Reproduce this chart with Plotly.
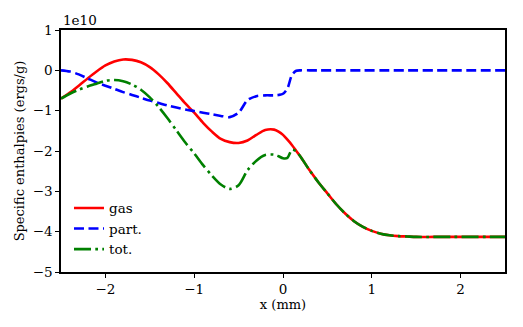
import plotly.graph_objects as go

# x grid (mm) and specific enthalpies in units of 1e10 ergs/g
x_mm = [-2.5, -2.4, -2.3, -2.2, -2.1, -2.0, -1.9, -1.8, -1.7, -1.6,
        -1.5, -1.4, -1.3, -1.2, -1.1, -1.0, -0.9, -0.8, -0.7, -0.6,
        -0.5, -0.4, -0.3, -0.2, -0.1, -0.05, 0.0, 0.05, 0.1, 0.15,
        0.2, 0.3, 0.4, 0.5, 0.6, 0.7, 0.8, 0.9, 1.0, 1.1,
        1.2, 1.3, 1.4, 1.5, 1.7, 1.9, 2.1, 2.3, 2.5]

gas = [-0.70, -0.55, -0.38, -0.20, -0.03, 0.12, 0.22, 0.27, 0.26, 0.20,
       0.08, -0.10, -0.32, -0.57, -0.82, -1.05, -1.30, -1.52, -1.70, -1.78,
       -1.80, -1.74, -1.60, -1.48, -1.47, -1.52, -1.60, -1.72, -1.85, -2.00,
       -2.15, -2.48, -2.78, -3.05, -3.32, -3.55, -3.74, -3.88, -3.98, -4.05,
       -4.09, -4.11, -4.12, -4.13, -4.13, -4.13, -4.13, -4.13, -4.13]

part = [0.00, -0.03, -0.10, -0.20, -0.30, -0.38, -0.46, -0.54, -0.61, -0.68,
        -0.75, -0.81, -0.87, -0.92, -0.97, -1.01, -1.05, -1.09, -1.13, -1.16,
        -1.05, -0.74, -0.64, -0.62, -0.62, -0.61, -0.58, -0.45, -0.12, -0.01,
        0.00, 0.00, 0.00, 0.00, 0.00, 0.00, 0.00, 0.00, 0.00, 0.00,
        0.00, 0.00, 0.00, 0.00, 0.00, 0.00, 0.00, 0.00, 0.00]

tot = [-0.70, -0.58, -0.48, -0.40, -0.33, -0.26, -0.24, -0.27, -0.35, -0.48,
       -0.67, -0.91, -1.19, -1.49, -1.79, -2.06, -2.35, -2.61, -2.83, -2.94,
       -2.85, -2.48, -2.24, -2.10, -2.09, -2.13, -2.18, -2.17, -1.97, -2.01,
       -2.15, -2.48, -2.78, -3.05, -3.32, -3.55, -3.74, -3.88, -3.98, -4.05,
       -4.09, -4.11, -4.12, -4.13, -4.13, -4.13, -4.13, -4.13, -4.13]

font = "DejaVu Serif"

fig = go.Figure()
fig.add_trace(go.Scatter(x=x_mm, y=gas, name="gas", mode="lines",
                         line=dict(color="red", width=2.6, shape="spline", smoothing=0.8)))
fig.add_trace(go.Scatter(x=x_mm, y=part, name="part.", mode="lines",
                         line=dict(color="blue", width=2.6, dash="10px,4.5px", shape="spline", smoothing=0.8)))
fig.add_trace(go.Scatter(x=x_mm, y=tot, name="tot.", mode="lines",
                         line=dict(color="green", width=2.6, dash="17px,4.3px,2.7px,4.3px",
                                   shape="spline", smoothing=0.8)))

axis_style = dict(showline=True, linecolor="black", linewidth=1.5, mirror=True,
                  ticks="outside", ticklen=4, tickwidth=1.2, tickcolor="black",
                  showgrid=False, zeroline=False, automargin=False,
                  tickfont=dict(family=font, size=13.5, color="black"))

fig.update_xaxes(range=[-2.5, 2.5], tickvals=[-2, -1, 0, 1, 2],
                 title=dict(text="x (mm)", font=dict(family=font, size=13, color="black"), standoff=2),
                 **axis_style)
fig.update_yaxes(range=[-5, 1], tickvals=[-5, -4, -3, -2, -1, 0, 1],
                 title=dict(text="Specific enthalpies (ergs/g)", font=dict(family=font, size=13, color="black"), standoff=5),
                 **axis_style)

fig.add_annotation(text="1e10", x=0, y=1, xref="paper", yref="paper",
                   xanchor="left", yanchor="bottom", showarrow=False,
                   font=dict(family=font, size=13.5, color="black"))

fig.update_layout(
    template="none",
    width=523, height=327,
    margin=dict(l=61, r=18, t=30, b=55),
    plot_bgcolor="white", paper_bgcolor="white",
    font=dict(family=font, color="black"),
    showlegend=True,
    legend=dict(x=0.018, y=0.03, xanchor="left", yanchor="bottom",
                bgcolor="rgba(0,0,0,0)", font=dict(family=font, size=13.5),
                itemwidth=30, tracegroupgap=0),
)

fig.write_html("out.html", config={"displayModeBar": False},
               post_script="document.body.style.margin='0';")
